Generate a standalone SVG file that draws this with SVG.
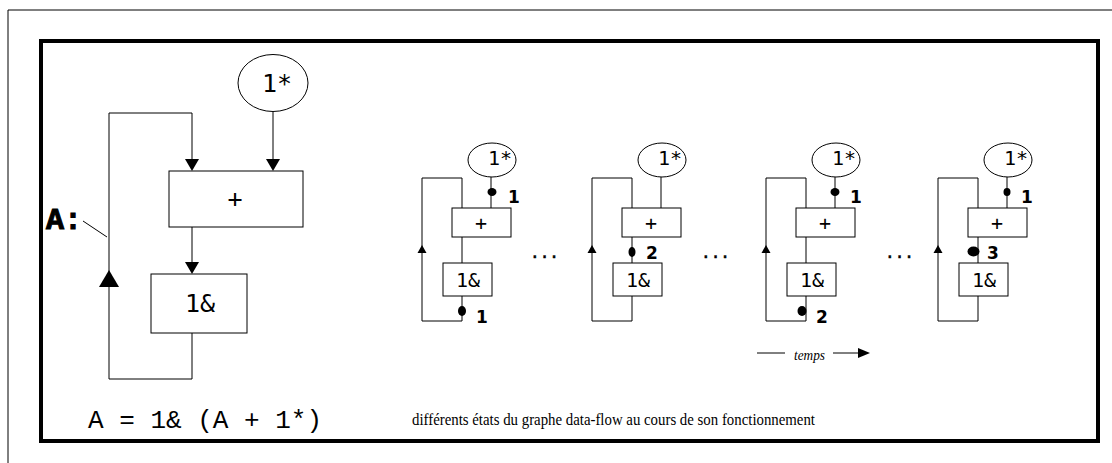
<svg xmlns="http://www.w3.org/2000/svg" width="1112" height="463" viewBox="0 0 1112 463">
<defs>
<style>
.ln{fill:none;stroke:#000;stroke-width:1}
.box{fill:#fff;stroke:#000;stroke-width:1}
.ah{fill:#000;stroke:none}
.dot{fill:#000}
.mono{font-family:"DejaVu Sans Mono",monospace;fill:#000}
.cour{font-family:"Liberation Mono","Courier New",monospace;fill:#000}
.lbl{font-family:"DejaVu Sans",sans-serif;font-weight:bold;font-size:17px;fill:#000}
.serif{font-family:"Liberation Serif","Times New Roman",serif;fill:#000}
</style>
<g id="mini">
<g class="connectors">
<path class="ln" d="M-1,177 V208 M-30,237 V263 M-30,296 V321 H-70 V178 H-30 V208"/>
<polygon class="ah" points="-70,245 -74.5,253 -65.5,253"/>
</g>
<ellipse class="box" cx="0" cy="160" rx="24" ry="17"/>
<text class="mono" x="8" y="165" font-size="20" text-anchor="middle">1*</text>
<rect class="box" x="-40" y="208" width="59" height="29"/>
<text class="mono" x="-11" y="230" font-size="20" text-anchor="middle">+</text>
<rect class="box" x="-49" y="263" width="49" height="33"/>
<text class="mono" x="-24" y="287" font-size="20" text-anchor="middle">1&amp;</text>
</g>
</defs>
<rect width="1112" height="463" fill="#fff"/>
<path class="ln" d="M8,463 V10 H1112"/>
<rect x="41" y="41" width="1057" height="400" fill="none" stroke="#000" stroke-width="4"/>

<g id="connectors">
<path class="ln" d="M273,112 V160 M192,333 V379 H109 V113 H192 V160 M192,227 V263"/>
<polygon class="ah" points="266,159 280,159 273,171"/>
<polygon class="ah" points="185,159 199,159 192,171"/>
<polygon class="ah" points="185,262 199,262 192,274"/>
<polygon class="ah" points="109,270 99,287 119,287"/>
<line class="ln" x1="83" y1="221" x2="107" y2="237"/>
<line class="ln" x1="757" y1="353" x2="785" y2="353"/>
<line class="ln" x1="833" y1="353" x2="860" y2="353"/>
<polygon class="ah" points="858,348 870,353 858,358"/>
</g>

<g id="n-const">
<ellipse class="box" cx="273" cy="83" rx="35" ry="28.5"/>
<text class="mono" x="277" y="92" font-size="25" text-anchor="middle">1*</text>
</g>
<g id="n-plus">
<rect class="box" x="169" y="171" width="134" height="56"/>
<text class="mono" x="235" y="207" font-size="25" text-anchor="middle">+</text>
</g>
<g id="n-delay">
<rect class="box" x="151" y="274" width="96" height="59"/>
<text class="mono" x="200" y="312" font-size="25" text-anchor="middle">1&amp;</text>
</g>
<g id="label-A">
<text class="cour" x="46" y="229" font-size="30" font-weight="bold" stroke="#000" stroke-width="1">A:</text>
</g>
<text class="cour" x="88" y="428" font-size="26">A = 1&amp; (A + 1*)</text>

<g id="state1">
<use href="#mini" transform="translate(492,0)"/>
<ellipse class="dot" cx="492" cy="192" rx="4.5" ry="4"/>
<text class="lbl" x="508" y="203">1</text>
<ellipse class="dot" cx="462" cy="311" rx="4" ry="5"/>
<text class="lbl" x="476" y="323">1</text>
</g>
<text class="mono" x="530" y="258" font-size="16" stroke="#000" stroke-width="0.5">...</text>
<g id="state2">
<use href="#mini" transform="translate(662,0)"/>
<ellipse class="dot" cx="632" cy="252" rx="3.5" ry="5"/>
<text class="lbl" x="646" y="259">2</text>
</g>
<text class="mono" x="701" y="258" font-size="16" stroke="#000" stroke-width="0.5">...</text>
<g id="state3">
<use href="#mini" transform="translate(836,0)"/>
<ellipse class="dot" cx="835" cy="192" rx="4.5" ry="4"/>
<text class="lbl" x="850" y="203">1</text>
<ellipse class="dot" cx="802" cy="311" rx="4.5" ry="5"/>
<text class="lbl" x="816" y="323">2</text>
</g>
<text class="mono" x="885" y="258" font-size="16" stroke="#000" stroke-width="0.5">...</text>
<g id="state4">
<use href="#mini" transform="translate(1008,0)"/>
<ellipse class="dot" cx="1007" cy="192" rx="3.5" ry="4"/>
<text class="lbl" x="1021" y="203">1</text>
<ellipse class="dot" cx="973.5" cy="251.5" rx="6" ry="5"/>
<text class="lbl" x="987" y="259">3</text>
</g>

<text class="serif" x="794" y="360" font-size="14" font-style="italic" textLength="31" lengthAdjust="spacingAndGlyphs">temps</text>
<text class="serif" x="412" y="425" font-size="17" textLength="403" lengthAdjust="spacingAndGlyphs">différents états du graphe data-flow au cours de son fonctionnement</text>
</svg>
